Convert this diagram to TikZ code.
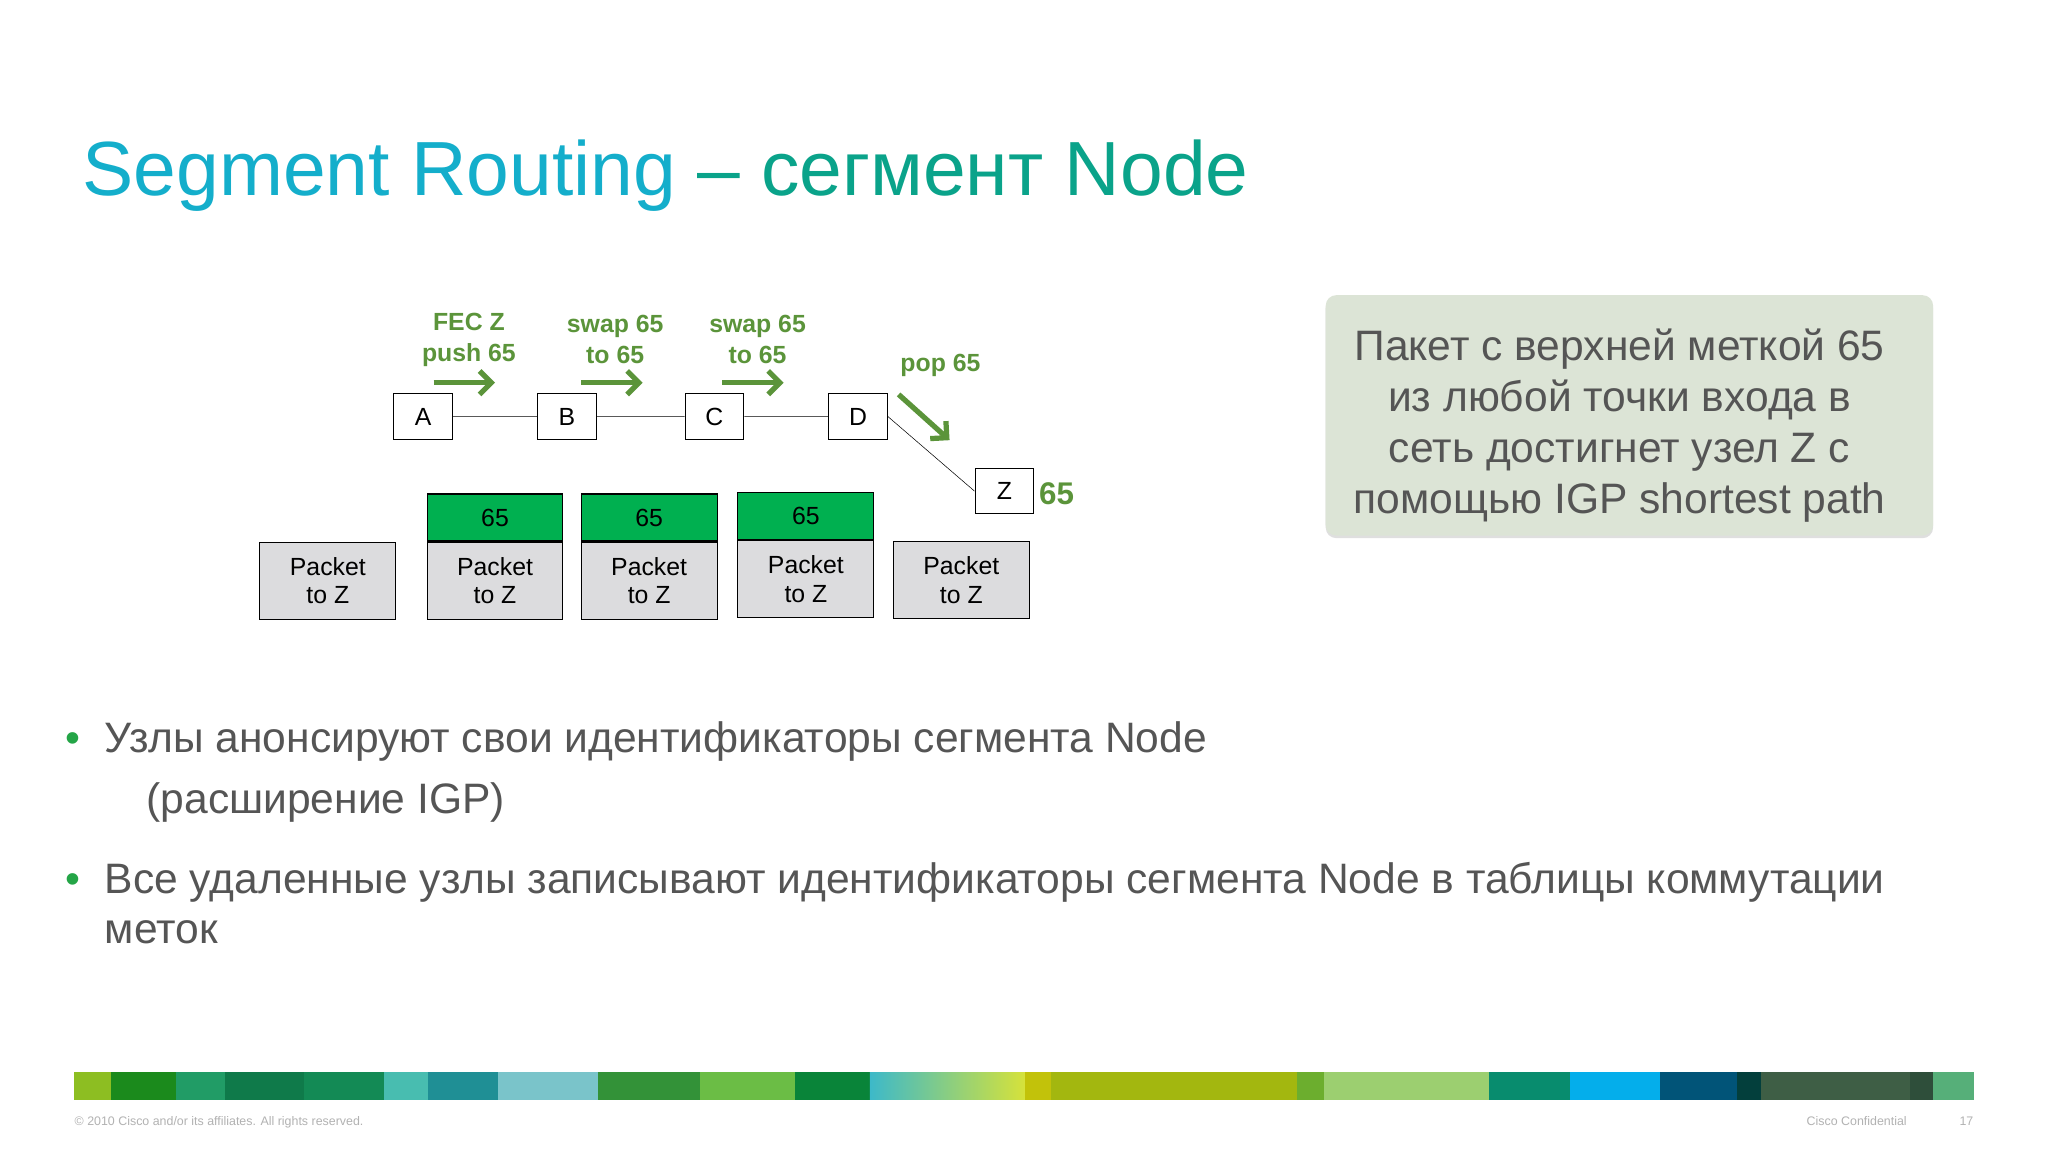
\documentclass[tikz,border=0pt]{standalone}
\usepackage{fontspec}
\setmainfont{Liberation Sans}
\usetikzlibrary{shadows,arrows.meta}
\definecolor{tA}{HTML}{14AECB}\definecolor{tB}{HTML}{0AA38A}
\definecolor{gr}{HTML}{5B943A}\definecolor{lbl}{HTML}{00B050}
\definecolor{pk}{HTML}{DCDCDE}\definecolor{txt}{HTML}{555555}
\definecolor{call}{HTML}{DCE4D6}
\tikzset{x=1pt,y=-1pt,
 nd/.style={draw,thick,minimum width=45pt,minimum height=35pt,inner sep=0,font=\fontsize{19}{19}\selectfont},
 pkt/.style={draw,thick,fill=pk,minimum width=104pt,minimum height=59pt,inner sep=0,align=center,font=\fontsize{19}{22}\selectfont},
 lab/.style={draw,thick,fill=lbl,minimum width=104pt,minimum height=36pt,inner sep=0,font=\fontsize{19}{19}\selectfont},
 gl/.style={text=gr,font=\bfseries\fontsize{19}{24}\selectfont,align=center},
 ga/.style={gr,line width=4pt,-{Straight Barb[length=9pt,width=18pt]}},
 bl/.style={anchor=base west,inner sep=0,text=txt,font=\fontsize{32.6}{36}\selectfont}}
\begin{document}
\begin{tikzpicture}
\fill[white] (0,0) rectangle (1568,883);
\useasboundingbox (0,0) rectangle (1568,883);
\node[anchor=base west,inner sep=0,font=\fontsize{58.8}{60}\selectfont] (title) at (63,150) {\textcolor{tA}{Segment Routing} \textcolor{tB}{– сегмент Node}};
% network
\node[nd] (A) at (324,319) {A};
\node[nd] (B) at (434,319) {B};
\node[nd] (C) at (547,319) {C};
\node[nd] (D) at (657,319) {D};
\node[nd] (Z) at (769,376) {Z};
\draw (A)--(B) (B)--(C) (C)--(D) (D.east)--(Z.west);
\node[text=gr,font=\bfseries\fontsize{24}{24}\selectfont,anchor=west] (z65) at (792,378) {65};
\node[gl] (l1) at (359,260) {FEC Z\\push 65};
\node[gl] (l2) at (471,260) {swap 65\\to 65};
\node[gl] (l3) at (580,260) {swap 65\\to 65};
\node[gl] (l4) at (720,280) {pop 65};
\coordinate (a1) at (332,293); \coordinate (a1e) at (379,293);
\coordinate (a2) at (445,293); \coordinate (a2e) at (492,293);
\coordinate (a3) at (553,293); \coordinate (a3e) at (600,293);
\coordinate (a4) at (688,302); \coordinate (a4e) at (727,337);
\draw[ga] (a1)--(a1e); \draw[ga] (a2)--(a2e); \draw[ga] (a3)--(a3e); \draw[ga] (a4)--(a4e);
% packets
\node[pkt] (p1) at (251,444.5) {Packet\\to Z};
\node[pkt] (p2) at (379,444.5) {Packet\\to Z};
\node[lab,anchor=south] (g2) at (p2.north) {65};
\node[pkt] (p3) at (497,444.5) {Packet\\to Z};
\node[lab,anchor=south] (g3) at (p3.north) {65};
\node[pkt] (p4) at (617,443.5) {Packet\\to Z};
\node[lab,anchor=south] (g4) at (p4.north) {65};
\node[pkt] (p5) at (736,444) {Packet\\to Z};
% callout
\node[fill=call,rounded corners=8pt,minimum width=465pt,minimum height=184pt,
 drop shadow={shadow xshift=0pt,shadow yshift=-2pt,opacity=0.25}] (cb) at (1247.5,318) {};
\node[align=center,text=txt,font=\fontsize{32.6}{39}\selectfont] (ct) at (1240,326)
 {Пакет с верхней меткой 65\\из любой точки входа в\\сеть достигнет узел Z с\\помощью IGP shortest path};
% bullets
\node[bl,text=lbl!60!gr] (b1) at (50,576) {•};
\node[bl] (t1) at (80,576) {Узлы анонсируют свои идентификаторы сегмента Node};
\node[bl] (t1b) at (112,623) {(расширение IGP)};
\node[bl,text=lbl!60!gr] (b2) at (50,684) {•};
\node[bl] (t2) at (80,684) {Все удаленные узлы записывают идентификаторы сегмента Node в таблицы коммутации};
\node[bl] (t2b) at (80,722) {меток};
% footer bar
\def\seg#1#2#3{\definecolor{sc}{HTML}{#3}\fill[sc] (#1,821) rectangle (#2,842);}
\seg{57}{85}{8DBE22}\seg{85}{135}{1B8A1C}\seg{135}{172}{219C66}\seg{172}{233}{0F7A4A}
\seg{233}{294}{138A55}\seg{294}{328}{48BDB0}\seg{328}{381}{1F8F95}\seg{381}{458}{7AC4CA}
\seg{458}{536}{339238}\seg{536}{609}{6BBD45}\seg{609}{666}{098439}
\definecolor{ga1}{HTML}{3DB9C9}\definecolor{ga2}{HTML}{D6E23A}
\shade[left color=ga1,right color=ga2] (666,821) rectangle (785,842);
\seg{785}{805}{C2C20A}\seg{805}{993}{A3B70F}\seg{993}{1014}{6CAE2E}\seg{1014}{1140}{9CCF70}
\seg{1140}{1202}{088C6E}\seg{1202}{1271}{04AEEB}\seg{1271}{1330}{015478}\seg{1330}{1348}{033F3C}
\seg{1348}{1462}{3E5E45}\seg{1462}{1480}{2E4E3A}\seg{1480}{1511}{56AF79}
\node[anchor=base west,inner sep=0,text=black!30,font=\fontsize{9.5}{9}\selectfont] (f1) at (57,862) {© 2010 Cisco and/or its affiliates. All rights reserved.};
\node[anchor=base east,inner sep=0,text=black!30,font=\fontsize{9.5}{9}\selectfont] (f2) at (1460,862) {Cisco Confidential};
\node[anchor=base east,inner sep=0,text=black!30,font=\fontsize{9.5}{9}\selectfont] (f3) at (1511,862) {17};
\end{tikzpicture}
\end{document}
